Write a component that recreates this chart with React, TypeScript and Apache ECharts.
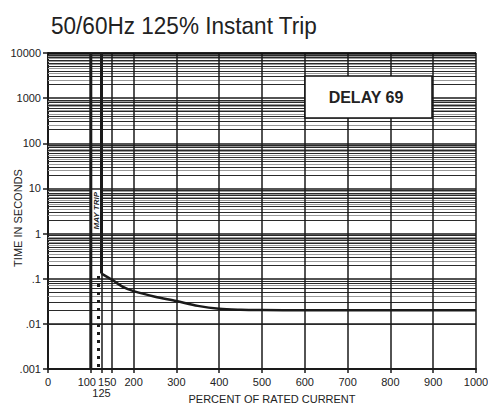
import React, { useEffect, useRef } from 'react';
import * as echarts from 'echarts';

// ---- data ----
const TITLE = '50/60Hz 125% Instant Trip';
const X_TICKS = [0, 100, 125, 150, 200, 300, 400, 500, 600, 700, 800, 900, 1000];
const X_GRID = [100, 125, 150, 200, 300, 400, 500, 600, 700, 800, 900, 1000];
const Y_MIN = 0.001;
const Y_MAX = 10000;
const DECADE_EXPONENTS = [-3, -2, -1, 0, 1, 2, 3];
const MINOR_MULTIPLES = [2, 2.5, 3, 3.5, 4, 4.5, 5, 5.5, 6, 6.5, 7, 7.5, 8, 8.5, 9];
const MAY_TRIP_LOW = 100;
const MAY_TRIP_HIGH = 125;
const CURVE_START_SEC = 0.13;
const TOLERANCE_PCT = 118;
const TOLERANCE_TOP_SEC = 0.115;
const CURVE_PCT = [125, 150, 175, 200, 250, 300, 350, 400, 450, 500, 600, 700, 800, 900, 1000];
const CURVE_SEC = [0.13, 0.094, 0.066, 0.053, 0.040, 0.032, 0.025, 0.0215, 0.0205, 0.0202, 0.02, 0.02, 0.02, 0.02, 0.02];
const LEGEND_LABEL = 'DELAY 69';
const MAY_TRIP_LABEL = 'MAY TRIP';
const X_NAME = 'PERCENT OF RATED CURRENT';
const Y_NAME = 'TIME IN SECONDS';

const FONT = '"Liberation Sans", Arial, Helvetica, sans-serif';
const INK = '#1a1a1a';

function fmtY(v: number): string {
  if (v >= 1) return String(Math.round(v));
  return String(Number(v.toPrecision(1))).replace(/^0/, '');
}

export default function App() {
  const ref = useRef<HTMLDivElement>(null);
  useEffect(() => {
    if (!ref.current) return;
    const chart = echarts.init(ref.current, undefined, { renderer: 'svg' });

    const minorLines: any[] = [];
    for (const k of DECADE_EXPONENTS) {
      for (const m of MINOR_MULTIPLES) {
        minorLines.push({
          yAxis: m * Math.pow(10, k),
          lineStyle: { color: Number.isInteger(m) ? '#2a2a2a' : '#9a9a9a', width: 1, type: 'solid' },
        });
      }
    }
    const vertLines = X_GRID.map((x) => ({
      xAxis: x,
      lineStyle: { color: INK, width: 1.5, type: 'solid' },
    }));
    const topLine = [{ yAxis: Y_MAX, lineStyle: { color: '#111', width: 2.5, type: 'solid' } }];

    const option: any = {
      animation: false,
      backgroundColor: '#fff',
      grid: { left: 48, right: 12, top: 53, bottom: 36, containLabel: false, outerBoundsMode: 'none' },
      xAxis: {
        type: 'value',
        min: 0,
        max: 1000,
        axisLine: { show: true, onZero: false, lineStyle: { color: INK, width: 2 } },
        axisTick: { show: true, customValues: X_TICKS, length: 4, lineStyle: { color: INK, width: 1.5 } },
        axisLabel: {
          customValues: X_TICKS,
          margin: 7,
          fontFamily: FONT,
          fontSize: 11,
          color: '#222',
          lineHeight: 11,
          formatter: (v: number) => {
            if (v === 125) return '\n125';
            if (v === 100) return '{l|100}';
            if (v === 150) return '{m|150}';
            return String(v);
          },
          rich: {
            l: { fontFamily: FONT, fontSize: 11, color: '#222', padding: [0, 8, 0, 0] },
            m: { fontFamily: FONT, fontSize: 11, color: '#222', padding: [0, 10, 0, 0] },
          },
        },
        splitLine: { show: false },
      },
      yAxis: {
        type: 'log',
        logBase: 10,
        min: Y_MIN,
        max: Y_MAX,
        splitNumber: 10,
        axisLine: { show: true, lineStyle: { color: INK, width: 2 } },
        axisTick: { show: true, length: 5, lineStyle: { color: INK, width: 1.5 } },
        axisLabel: { margin: 7, fontFamily: FONT, fontSize: 11, color: '#222', formatter: fmtY },
        splitLine: { show: true, lineStyle: { color: INK, width: 1.5 } },
        minorSplitLine: { show: false },
      },
      series: [
        {
          type: 'line',
          name: 'grid',
          data: [],
          silent: true,
          z: 1,
          markLine: {
            silent: true,
            symbol: 'none',
            z: 1,
            animation: false,
            label: { show: false },
            emphasis: { disabled: true },
            data: [...minorLines, ...vertLines, ...topLine],
          },
        },
        {
          type: 'line',
          name: 'may-trip-low',
          data: [[MAY_TRIP_LOW, Y_MIN], [MAY_TRIP_LOW, Y_MAX]],
          showSymbol: false,
          silent: true,
          z: 4,
          lineStyle: { color: INK, width: 3 },
        },
        {
          type: 'line',
          name: 'may-trip-high',
          data: [[MAY_TRIP_HIGH, Y_MAX], [MAY_TRIP_HIGH, CURVE_START_SEC]],
          showSymbol: false,
          silent: true,
          z: 4,
          lineStyle: { color: INK, width: 3 },
        },
        {
          type: 'line',
          name: 'delay-curve',
          data: CURVE_PCT.map((x, i) => [x, CURVE_SEC[i]]),
          showSymbol: false,
          smooth: 0.3,
          silent: true,
          z: 4,
          lineStyle: { color: INK, width: 2.5 },
        },
        {
          type: 'line',
          name: 'tolerance',
          data: [[TOLERANCE_PCT, TOLERANCE_TOP_SEC], [TOLERANCE_PCT, Y_MIN]],
          showSymbol: false,
          silent: true,
          z: 4,
          lineStyle: { color: INK, width: 3, type: [3, 5] },
        },
      ],
    };
    chart.setOption(option);

    const mayPx = chart.convertToPixel({ xAxisIndex: 0, yAxisIndex: 0 }, [(MAY_TRIP_LOW + MAY_TRIP_HIGH) / 2, 3.2]) as number[];

    chart.setOption({
      graphic: [
        {
          type: 'text',
          x: 51,
          y: 25.5,
          scaleX: 0.94,
          z: 20,
          style: { text: TITLE, fontFamily: FONT, fontSize: 24, fill: '#222', align: 'left', verticalAlign: 'middle' },
        },
        {
          type: 'rect',
          z: 20,
          shape: { x: 305, y: 76, width: 127, height: 42 },
          style: { fill: '#fff', stroke: '#111', lineWidth: 1.5 },
        },
        {
          type: 'text',
          x: 366,
          y: 97.5,
          z: 21,
          style: { text: LEGEND_LABEL, fontFamily: FONT, fontSize: 16, fontWeight: 'bold', fill: '#222', align: 'center', verticalAlign: 'middle' },
        },
        {
          type: 'text',
          x: mayPx[0],
          y: mayPx[1],
          rotation: Math.PI / 2,
          z: 2,
          style: {
            text: MAY_TRIP_LABEL,
            fontFamily: FONT,
            fontSize: 8,
            fontWeight: 'bold',
            fontStyle: 'italic',
            fill: '#222',
            align: 'center',
            verticalAlign: 'middle',
            backgroundColor: '#fff',
            padding: [1, 2],
          },
        },
        {
          type: 'text',
          x: 18,
          y: 218,
          rotation: Math.PI / 2,
          z: 20,
          style: { text: Y_NAME, fontFamily: FONT, fontSize: 11, fill: '#222', align: 'center', verticalAlign: 'middle' },
        },
        {
          type: 'text',
          x: 272,
          y: 393,
          z: 20,
          style: { text: X_NAME, fontFamily: FONT, fontSize: 11, fill: '#222', align: 'center', verticalAlign: 'top' },
        },
      ],
    });

    return () => chart.dispose();
  }, []);
  return (
    <div
      ref={ref}
      style={{ position: 'absolute', left: 0, top: 0, width: 488, height: 405, background: '#fff' }}
    />
  );
}
